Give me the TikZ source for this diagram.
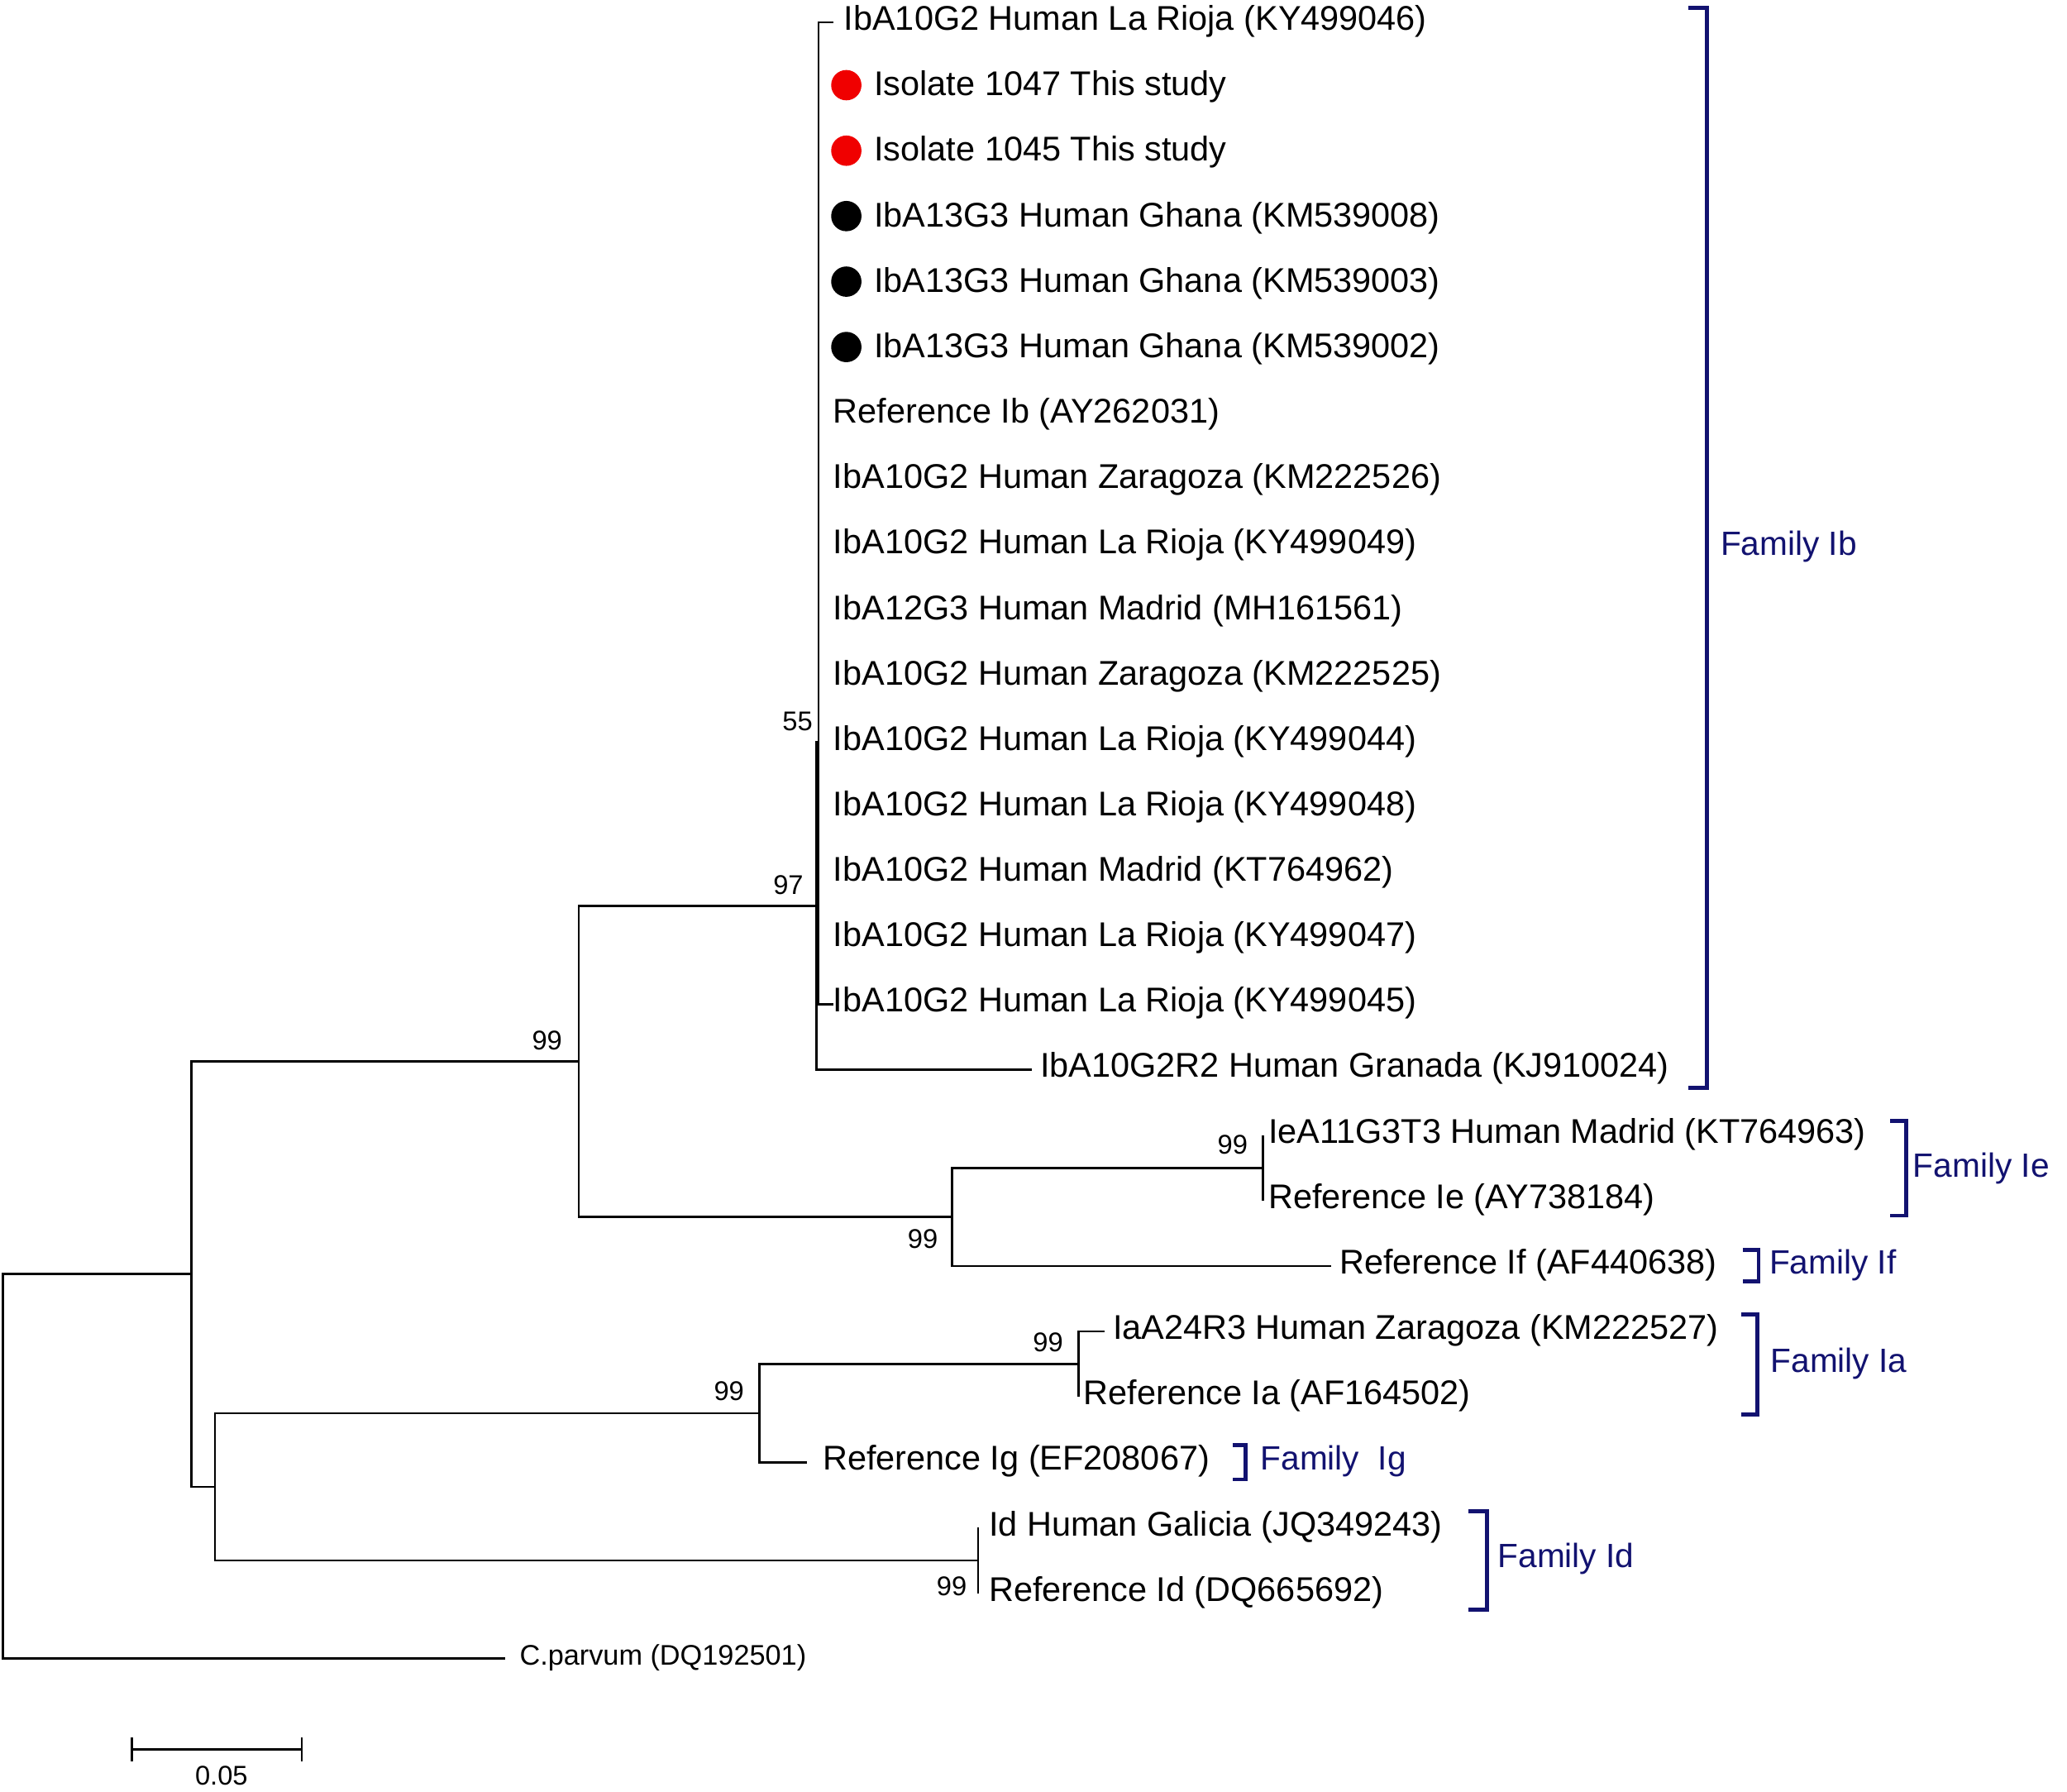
\documentclass[tikz,border=0pt]{standalone}
\usepackage{fontspec}
\setmainfont{Liberation Sans}
\definecolor{famnavy}{RGB}{18,18,112}
\definecolor{dotred}{RGB}{240,0,0}
\begin{document}
\begin{tikzpicture}[x=1pt,y=-1pt,
  br/.style={line width=1.7pt,black},
  brk/.style={line width=3pt,famnavy,line join=miter},
  leaf/.style={anchor=base west,inner sep=0pt,font=\fontsize{26}{30}\selectfont},
  bs/.style={inner sep=0pt,font=\fontsize{20.5}{24}\selectfont},
  fam/.style={anchor=base west,inner sep=0pt,text=famnavy,font=\fontsize{25.5}{30}\selectfont},
  mark red/.style={circle,fill=dotred,inner sep=0pt,minimum size=23pt},
  mark black/.style={circle,fill=black,inner sep=0pt,minimum size=23pt}]
\fill[white] (0,0) rectangle (1568,1359);
\useasboundingbox (0,0) rectangle (1568,1359);

% internal nodes
\coordinate (root) at (2,1112);
\coordinate (nA) at (145,966);
\coordinate (nB) at (439,805);
\coordinate (nC) at (619.5,687);
\coordinate (nD) at (621,563);
\coordinate (nDp) at (621,364.5);
\coordinate (nE) at (722,923);
\coordinate (nF) at (958,885.7);
\coordinate (nG) at (163,1127.7);
\coordinate (nH) at (576,1071.8);
\coordinate (nI) at (818,1034.6);
\coordinate (nJ) at (742,1183.5);

% leaf ends
\coordinate (e1) at (632,17);
\coordinate (e2) at (621,66.6);
\coordinate (e3) at (621,116.3);
\coordinate (e4) at (621,165.9);
\coordinate (e5) at (621,215.6);
\coordinate (e6) at (621,265.2);
\coordinate (e7) at (621,314.8);
\coordinate (e8) at (621,364.5);
\coordinate (e9) at (621,414.1);
\coordinate (e10) at (621,463.8);
\coordinate (e11) at (621,513.4);
\coordinate (e12) at (621,563);
\coordinate (e13) at (621,612.7);
\coordinate (e14) at (621,662.3);
\coordinate (e15) at (621,712);
\coordinate (e16) at (632,761.6);
\coordinate (e17) at (783,811.2);
\coordinate (e18) at (958,860.9);
\coordinate (e19) at (958,910.5);
\coordinate (e20) at (1010,960.2);
\coordinate (e21) at (838,1009.8);
\coordinate (e22) at (818,1059.4);
\coordinate (e23) at (612,1109.1);
\coordinate (e24) at (742,1158.7);
\coordinate (e25) at (742,1208.4);
\coordinate (e26) at (383,1258);

% branches
\draw[br] (root) |- (nA);
\draw[br] (root) |- (e26);
\draw[br] (nA) |- (nB);
\draw[br] (nA) |- (nG);
\draw[br] (nB) |- (nC);
\draw[br] (nB) |- (nE);
\draw[br] (nC) |- (nD);
\draw[br] (nC) |- (e17);
\draw[br] (nD) |- (nDp);
\draw[br] (nD) |- (e16);
\foreach \i in {1,...,15} {\draw[br] (nDp) |- (e\i);}
\draw[br] (nE) |- (nF);
\draw[br] (nE) |- (e20);
\draw[br] (nF) |- (e18);
\draw[br] (nF) |- (e19);
\draw[br] (nG) |- (nH);
\draw[br] (nG) |- (nJ);
\draw[br] (nH) |- (nI);
\draw[br] (nH) |- (e23);
\draw[br] (nI) |- (e21);
\draw[br] (nI) |- (e22);
\draw[br] (nJ) |- (e24);
\draw[br] (nJ) |- (e25);

% markers
\node[mark red] (m2) at (642,64.6) {};
\node[mark red] (m3) at (642,114.3) {};
\node[mark black] (m4) at (642,163.9) {};
\node[mark black] (m5) at (642,213.6) {};
\node[mark black] (m6) at (642,263.2) {};

% leaf labels
\node[leaf] (t1) at (640,23) {IbA10G2 Human La Rioja (KY499046)};
\node[leaf] (t2) at (663,72.6) {Isolate 1047 This study};
\node[leaf] (t3) at (663,122.3) {Isolate 1045 This study};
\node[leaf] (t4) at (663,171.9) {IbA13G3 Human Ghana (KM539008)};
\node[leaf] (t5) at (663,221.6) {IbA13G3 Human Ghana (KM539003)};
\node[leaf] (t6) at (663,271.2) {IbA13G3 Human Ghana (KM539002)};
\node[leaf] (t7) at (632,320.8) {Reference Ib (AY262031)};
\node[leaf] (t8) at (632,370.5) {IbA10G2 Human Zaragoza (KM222526)};
\node[leaf] (t9) at (632,420.1) {IbA10G2 Human La Rioja (KY499049)};
\node[leaf] (t10) at (632,469.8) {IbA12G3 Human Madrid (MH161561)};
\node[leaf] (t11) at (632,519.4) {IbA10G2 Human Zaragoza (KM222525)};
\node[leaf] (t12) at (632,569) {IbA10G2 Human La Rioja (KY499044)};
\node[leaf] (t13) at (632,618.7) {IbA10G2 Human La Rioja (KY499048)};
\node[leaf] (t14) at (632,668.3) {IbA10G2 Human Madrid (KT764962)};
\node[leaf] (t15) at (632,718) {IbA10G2 Human La Rioja (KY499047)};
\node[leaf] (t16) at (632,767.6) {IbA10G2 Human La Rioja (KY499045)};
\node[leaf] (t17) at (789,817.2) {IbA10G2R2 Human Granada (KJ910024)};
\node[leaf] (t18) at (962,866.9) {IeA11G3T3 Human Madrid (KT764963)};
\node[leaf] (t19) at (962,916.5) {Reference Ie (AY738184)};
\node[leaf] (t20) at (1016,966.2) {Reference If (AF440638)};
\node[leaf] (t21) at (844,1015.8) {IaA24R3 Human Zaragoza (KM222527)};
\node[leaf] (t22) at (822,1065.4) {Reference Ia (AF164502)};
\node[leaf] (t23) at (624,1115.1) {Reference Ig (EF208067)};
\node[leaf] (t24) at (750,1164.7) {Id Human Galicia (JQ349243)};
\node[leaf] (t25) at (750,1214.4) {Reference Id (DQ665692)};
\node[leaf,font=\fontsize{21.5}{25}\selectfont] (t26) at (394,1263) {C.parvum (DQ192501)};

% bootstrap values
\node[bs] (bB) at (415,789) {99};
\node[bs] (bC) at (598,671) {97};
\node[bs] (bD) at (605,547) {55};
\node[bs] (bE) at (700,940) {99};
\node[bs] (bF) at (935,868) {99};
\node[bs] (bH) at (553,1055) {99};
\node[bs] (bI) at (795,1018) {99};
\node[bs] (bJ) at (722,1203) {99};

% family brackets
\draw[brk] (1281,6) -- (1295,6) -- (1295,825) -- (1281,825);
\node[fam] (fIb) at (1305,421) {Family Ib};
\draw[brk] (1434,850) -- (1446,850) -- (1446,922) -- (1434,922);
\node[fam] (fIe) at (1451,893) {Family Ie};
\draw[brk] (1322,948) -- (1334,948) -- (1334,972) -- (1322,972);
\node[fam] (fIf) at (1342,966) {Family If};
\draw[brk] (1321,997) -- (1333,997) -- (1333,1073) -- (1321,1073);
\node[fam] (fIa) at (1343,1041) {Family Ia};
\draw[brk] (935,1096) -- (945,1096) -- (945,1122) -- (935,1122);
\node[fam] (fIg) at (956,1115) {Family~~Ig};
\draw[brk] (1114,1146) -- (1128,1146) -- (1128,1221) -- (1114,1221);
\node[fam] (fId) at (1136,1189) {Family Id};

% scale bar
\coordinate (s1) at (100,1327);
\coordinate (s2) at (229,1327);
\draw[br] (s1) -- (s2);
\draw[br] ([yshift=9pt]s1) -- ([yshift=-9pt]s1);
\draw[br] ([yshift=9pt]s2) -- ([yshift=-9pt]s2);
\node[bs] (sl) at (168,1347) {0.05};
\end{tikzpicture}
\end{document}
